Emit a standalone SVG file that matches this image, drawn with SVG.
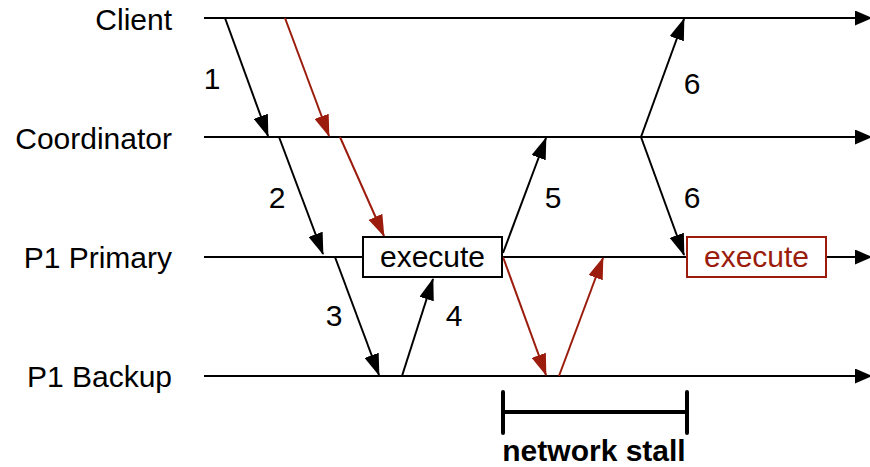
<svg xmlns="http://www.w3.org/2000/svg" width="870" height="467" viewBox="0 0 870 467">
<defs>
<marker id="ab" markerUnits="userSpaceOnUse" markerWidth="22" markerHeight="15" refX="21" refY="7.5" orient="auto"><path d="M0,0 L22,7.5 L0,15 z" fill="#000"/></marker>
<marker id="ar" markerUnits="userSpaceOnUse" markerWidth="22" markerHeight="15" refX="21" refY="7.5" orient="auto"><path d="M0,0 L22,7.5 L0,15 z" fill="#9b1c0c"/></marker>
<marker id="at" markerUnits="userSpaceOnUse" markerWidth="17" markerHeight="15" refX="16" refY="7.5" orient="auto"><path d="M0,0 L17,7.5 L0,15 z" fill="#000"/></marker>
<style>
text{font-family:"Liberation Sans",Arial,sans-serif;font-size:30px;fill:#000}
.lbl{text-anchor:end}
.num{text-anchor:middle}
.tl{stroke:#000;stroke-width:2;fill:none}
.blk{stroke:#000;stroke-width:2;fill:none;marker-end:url(#ab)}
.red{stroke:#9b1c0c;stroke-width:2;fill:none;marker-end:url(#ar)}
.box{fill:#fff;stroke-width:2}
</style>
</defs>
<g id="client"><text class="lbl" x="172" y="30">Client</text></g>
<g id="coordinator"><text class="lbl" x="172" y="149">Coordinator</text></g>
<g id="p1primary"><text class="lbl" x="172" y="268">P1 Primary</text></g>
<g id="p1backup"><text class="lbl" x="172" y="387">P1 Backup</text></g>
<g id="connectors">
<line class="tl" x1="204" y1="18" x2="871" y2="18" marker-end="url(#at)"/>
<line class="tl" x1="204" y1="137" x2="871" y2="137" marker-end="url(#at)"/>
<line class="tl" x1="204" y1="257" x2="363" y2="257"/>
<line class="tl" x1="502" y1="257" x2="687" y2="257"/>
<line class="tl" x1="826" y1="257" x2="871" y2="257" marker-end="url(#at)"/>
<line class="tl" x1="204" y1="376" x2="871" y2="376" marker-end="url(#at)"/>
<line class="blk" x1="225" y1="18" x2="268" y2="136"/>
<line class="red" x1="285" y1="18" x2="329" y2="136"/>
<line class="blk" x1="279" y1="137" x2="323" y2="254"/>
<line class="red" x1="340" y1="137" x2="384" y2="236"/>
<line class="blk" x1="335" y1="257" x2="379" y2="375"/>
<line class="blk" x1="402" y1="376" x2="433" y2="279"/>
<line class="blk" x1="503" y1="253" x2="546" y2="138"/>
<line class="red" x1="503" y1="257" x2="546" y2="375"/>
<line class="red" x1="559" y1="376" x2="603" y2="258"/>
<line class="blk" x1="641" y1="137" x2="684" y2="19"/>
<line class="blk" x1="641" y1="137" x2="684" y2="255"/>
</g>
<g id="labels">
<text class="num" x="212" y="89">1</text>
<text class="num" x="277" y="208">2</text>
<text class="num" x="334" y="326">3</text>
<text class="num" x="454" y="326">4</text>
<text class="num" x="553" y="208">5</text>
<text class="num" x="692" y="94">6</text>
<text class="num" x="692" y="208">6</text>
</g>
<g id="execute1"><rect class="box" x="363" y="237" width="139" height="40" stroke="#000"/><text class="num" x="432.5" y="267">execute</text></g>
<g id="execute2"><rect class="box" x="687" y="237" width="139" height="40" stroke="#9b1c0c"/><text class="num" x="756.5" y="267" style="fill:#9b1c0c">execute</text></g>
<g id="stall">
<path d="M503,392 V433 M687,392 V433 M503,412 H687" stroke="#000" stroke-width="4" stroke-linecap="round" fill="none"/>
<text class="num" x="594" y="461" style="font-weight:bold">network stall</text>
</g>
</svg>
